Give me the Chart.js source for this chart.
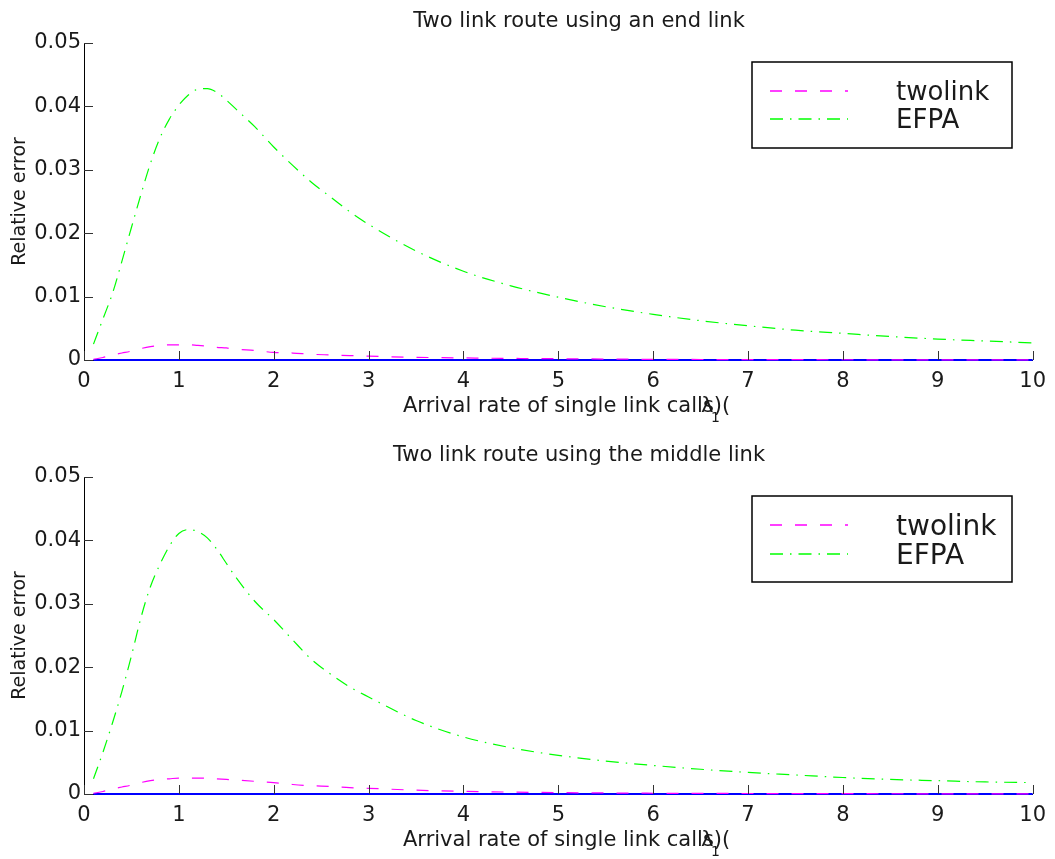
<!DOCTYPE html>
<html>
<head>
<meta charset="utf-8">
<script src="https://cdn.jsdelivr.net/npm/chart.js@4.4.1/dist/chart.umd.min.js"></script>
<style>
  html, body { margin: 0; padding: 0; background: #fff; }
  #figure { position: relative; width: 1055px; height: 859px; }
  canvas { position: absolute; left: 0; }
</style>
</head>
<body>
<div id="figure">
  <canvas id="endChart" width="1055" height="430" style="top:0"></canvas>
  <canvas id="middleChart" width="1055" height="429" style="top:430px"></canvas>
</div>
<script>
const arrivalRates = [0.1, 0.2, 0.3, 0.4, 0.5, 0.6, 0.7, 0.8, 0.9, 1.0, 1.1, 1.2, 1.3, 1.4, 1.5, 1.6, 1.8, 2.0,
  2.2, 2.4, 2.6, 2.8, 3.0, 3.5, 4.0, 4.5, 5.0, 5.5, 6.0, 6.5, 7.0, 7.5, 8.0, 8.5, 9.0, 9.5, 10];

const endTwolink = [0.0001, 0.0004, 0.0008, 0.0011, 0.0014, 0.0018, 0.0021, 0.0023, 0.0024, 0.0024, 0.0024,
  0.0023, 0.0022, 0.002, 0.0019, 0.0017, 0.0015, 0.0012, 0.0011, 0.0009, 0.0008, 0.0007, 0.0006, 0.00043,
  0.00033, 0.00025, 0.0002, 0.00015, 0.0001, 0.00008, 0.00006, 0.00005, 0.00004, 0.00003, 0.00003, 0.00002, 0.00002];
const endEfpa = [0.0025, 0.0065, 0.0105, 0.0156, 0.0209, 0.0261, 0.031, 0.035, 0.038, 0.0402, 0.0418, 0.0427,
  0.0428, 0.0422, 0.041, 0.0396, 0.0368, 0.0336, 0.0307, 0.028, 0.0257, 0.0234, 0.0214, 0.0172, 0.014, 0.0117,
  0.0099, 0.0084, 0.0072, 0.0062, 0.0054, 0.0047, 0.0042, 0.0037, 0.0033, 0.003, 0.0027];

const middleTwolink = [0.0001, 0.0004, 0.0008, 0.0011, 0.0014, 0.0018, 0.0021, 0.0023, 0.0024, 0.0025, 0.0025,
  0.0025, 0.0025, 0.0024, 0.0023, 0.0022, 0.002, 0.0018, 0.0015, 0.0013, 0.0012, 0.001, 0.0009, 0.0006, 0.00043,
  0.0003, 0.00022, 0.00016, 0.00012, 0.0001, 0.00008, 0.00006, 0.00005, 0.00004, 0.00003, 0.00003, 0.00002];
const middleEfpa = [0.0024, 0.0066, 0.0112, 0.0162, 0.0218, 0.0278, 0.0327, 0.0362, 0.0391, 0.0411, 0.0417,
  0.0414, 0.0404, 0.0386, 0.0364, 0.0342, 0.0304, 0.0275, 0.0243, 0.0212, 0.0189, 0.0169, 0.0153, 0.0116, 0.009,
  0.0073, 0.0061, 0.0052, 0.0045, 0.0039, 0.0034, 0.003, 0.0026, 0.0023, 0.0021, 0.0019, 0.0018];

const zeroLine = [0, 0, 0, 0, 0, 0, 0, 0, 0, 0, 0, 0, 0, 0, 0, 0, 0, 0, 0, 0, 0, 0, 0, 0, 0, 0, 0, 0, 0, 0, 0,
  0, 0, 0, 0, 0, 0];

const xTickLabels = ["0", "1", "2", "3", "4", "5", "6", "7", "8", "9", "10"];
const yTickLabels = ["0", "0.01", "0.02", "0.03", "0.04", "0.05"];
const seriesLabels = ["twolink", "EFPA"];

const FONT = "'DejaVu Sans', sans-serif";
const TEXT = "#1a1a1a";

const palette = {
  twolink: "#ff00ff",
  efpa: "#00ff00",
  zero: "#0000ff",
};

function toPoints(values) {
  return values.map((y, i) => ({ x: arrivalRates[i], y }));
}

// titles, axis labels, inward ticks and the boxed legend
const figurePlugin = {
  id: "figure",
  afterDraw(chart, args, opts) {
    const { ctx, chartArea } = chart;
    const xScale = chart.scales.x;
    const yScale = chart.scales.y;
    ctx.save();

    // inward tick marks
    ctx.strokeStyle = "#333";
    ctx.lineWidth = 1;
    ctx.beginPath();
    xScale.ticks.forEach((t) => {
      const px = Math.round(xScale.getPixelForValue(t.value)) + 0.5;
      ctx.moveTo(px, chartArea.bottom);
      ctx.lineTo(px, chartArea.bottom - 9);
    });
    yScale.ticks.forEach((t) => {
      const py = Math.round(yScale.getPixelForValue(t.value)) + 0.5;
      ctx.moveTo(chartArea.left, py);
      ctx.lineTo(chartArea.left + 9, py);
    });
    ctx.stroke();

    ctx.fillStyle = TEXT;
    ctx.textBaseline = "alphabetic";

    // title
    ctx.font = `21px ${FONT}`;
    ctx.textAlign = "center";
    ctx.fillText(opts.title, 579, chartArea.top - 16);

    // x label with the lambda glyph laid over it
    const xLabel = "Arrival rate of single link calls)(";
    const labelLeft = 403;
    const labelBase = chartArea.bottom + 52;
    ctx.textAlign = "left";
    ctx.fillText(xLabel, labelLeft, labelBase);
    const lambdaX = labelLeft + ctx.measureText("Arrival rate of single link call").width - 2;
    ctx.fillText("λ", lambdaX, labelBase);
    ctx.font = `14px ${FONT}`;
    ctx.fillText("1", lambdaX + 10, labelBase + 10);

    // y label
    ctx.font = `19px ${FONT}`;
    ctx.translate(25, (chartArea.top + chartArea.bottom) / 2);
    ctx.rotate(-Math.PI / 2);
    ctx.textAlign = "center";
    ctx.fillText("Relative error", 0, 0);
    ctx.setTransform(1, 0, 0, 1, 0, 0);

    // legend box
    const box = opts.legend;
    ctx.fillStyle = "#fff";
    ctx.fillRect(box.x, box.y, box.w, box.h);
    ctx.strokeStyle = "#000";
    ctx.lineWidth = 1.5;
    ctx.strokeRect(box.x, box.y, box.w, box.h);
    ctx.font = `${box.fontSize}px ${FONT}`;
    seriesLabels.forEach((label, i) => {
      const ds = chart.data.datasets[i];
      const ly = box.y + box.firstRow + i * box.rowGap;
      ctx.strokeStyle = ds.borderColor;
      ctx.lineWidth = 1.5;
      ctx.setLineDash(ds.borderDash);
      ctx.beginPath();
      ctx.moveTo(box.x + 18, ly);
      ctx.lineTo(box.x + 96, ly);
      ctx.stroke();
      ctx.setLineDash([]);
      ctx.fillStyle = TEXT;
      ctx.textAlign = "left";
      ctx.fillText(label, box.x + 144, ly + box.fontSize * 0.36);
    });

    ctx.restore();
  },
};

function buildChart(canvasId, twolink, efpa, title, legend, topPad, xHeight) {
  const ctx = document.getElementById(canvasId).getContext("2d");
  return new Chart(ctx, {
    type: "line",
    data: {
      datasets: [
        {
          label: seriesLabels[0],
          data: toPoints(twolink),
          borderColor: palette.twolink,
          borderWidth: 1.2,
          borderDash: [12, 13],
          pointRadius: 0,
          cubicInterpolationMode: "monotone",
          clip: 4,
        },
        {
          label: seriesLabels[1],
          data: toPoints(efpa),
          borderColor: palette.efpa,
          borderWidth: 1.2,
          borderDash: [13, 7, 1.5, 7],
          pointRadius: 0,
          cubicInterpolationMode: "monotone",
          clip: 4,
        },
        {
          label: "zero",
          data: toPoints(zeroLine),
          borderColor: palette.zero,
          borderWidth: 2,
          pointRadius: 0,
          clip: 4,
        },
      ],
    },
    options: {
      responsive: false,
      animation: false,
      layout: { padding: { top: topPad, right: 19, left: 0, bottom: 0 } },
      plugins: {
        legend: { display: false },
        tooltip: { enabled: false },
        figure: { title, legend },
      },
      scales: {
        x: {
          type: "linear",
          min: 0,
          max: 10,
          ticks: {
            stepSize: 1,
            padding: 9,
            color: TEXT,
            font: { family: FONT, size: 21 },
            maxRotation: 0,
            callback: (value, index) => xTickLabels[index],
          },
          grid: { display: false, drawTicks: false },
          border: { display: true, color: "#000", width: 1 },
          afterFit(scale) {
            scale.height = xHeight;
          },
        },
        y: {
          min: 0,
          max: 0.05,
          ticks: {
            stepSize: 0.01,
            padding: 3,
            color: TEXT,
            font: { family: FONT, size: 21 },
            callback: (value, index) => yTickLabels[index],
          },
          grid: { display: false, drawTicks: false },
          border: { display: true, color: "#000", width: 1 },
          afterFit(scale) {
            scale.width = 84;
          },
        },
      },
    },
    plugins: [figurePlugin],
  });
}

buildChart("endChart", endTwolink, endEfpa, "Two link route using an end link",
  { x: 752, y: 62, w: 260, h: 86, firstRow: 29, rowGap: 28, fontSize: 26 }, 43, 70);
buildChart("middleChart", middleTwolink, middleEfpa, "Two link route using the middle link",
  { x: 752, y: 66, w: 260, h: 86, firstRow: 29, rowGap: 29, fontSize: 28 }, 47, 65);
</script>
</body>
</html>
